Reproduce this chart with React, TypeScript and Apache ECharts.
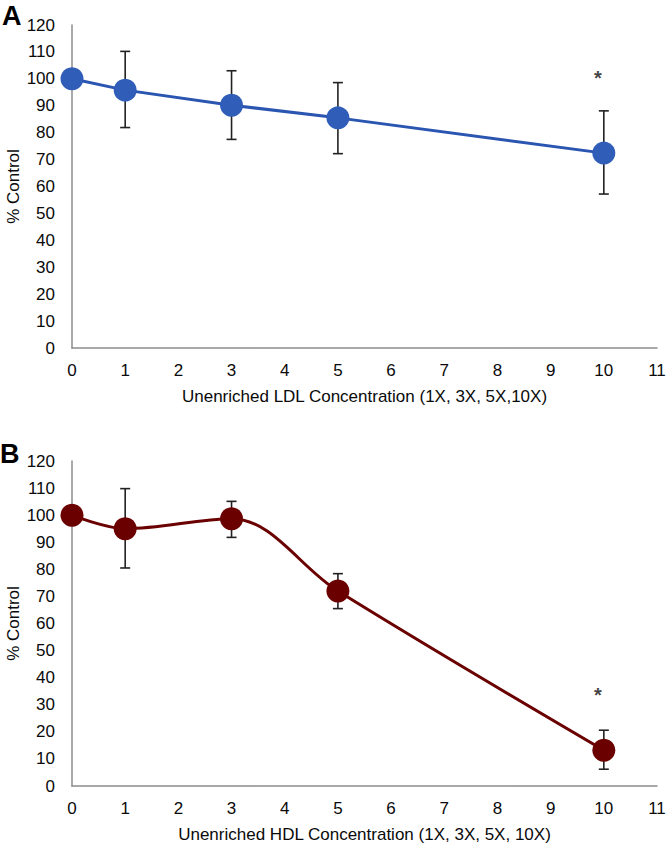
import React, { useEffect, useRef } from "react";
import * as echarts from "echarts";

const xValues = [0, 1, 3, 5, 10];
const ldlMeans = [100, 95.8, 90.2, 85.5, 72.4];
const ldlLow = [100, 81.9, 77.5, 72.2, 57.2];
const ldlHigh = [100, 110.2, 103, 98.6, 88.1];
const hdlMeans = [100, 95.0, 98.7, 72.0, 13.2];
const hdlLow = [100, 80.5, 91.8, 65.5, 6.2];
const hdlHigh = [100, 109.8, 105.1, 78.4, 20.6];
const ldlStar = [[10, 102.5]];
const hdlStar = [[10, 36]];
const ldlTitle = "Unenriched LDL Concentration (1X, 3X, 5X,10X)";
const hdlTitle = "Unenriched HDL Concentration (1X, 3X, 5X, 10X)";
const yTitle = "% Control";

const AXIS_COLOR = "#8c8c8c";
const TEXT_COLOR = "#0a0a0a";
const FONT = "Liberation Sans, Arial, sans-serif";

function errorData(low: number[], high: number[]) {
  return xValues.map((x, i) => [x, low[i], high[i]]);
}

function errSeries(idx: number, low: number[], high: number[]) {
  return {
    type: "custom",
    xAxisIndex: idx,
    yAxisIndex: idx,
    data: errorData(low, high),
    z: 1,
    silent: true,
    renderItem: (params: any, api: any) => {
      const x = api.value(0);
      const lo = api.coord([x, api.value(1)]);
      const hi = api.coord([x, api.value(2)]);
      const cap = 5;
      const style = { stroke: "#222", lineWidth: 1.6 };
      return {
        type: "group",
        children: [
          { type: "line", shape: { x1: lo[0], y1: lo[1], x2: hi[0], y2: hi[1] }, style },
          { type: "line", shape: { x1: lo[0] - cap, y1: lo[1], x2: lo[0] + cap, y2: lo[1] }, style },
          { type: "line", shape: { x1: hi[0] - cap, y1: hi[1], x2: hi[0] + cap, y2: hi[1] }, style },
        ],
      };
    },
  };
}

function xAxis(idx: number, name: string, nameGap: number) {
  return {
    type: "value",
    gridIndex: idx,
    min: 0,
    max: 11,
    interval: 1,
    name,
    nameLocation: "middle",
    nameGap,
    nameMoveOverlap: false,
    nameTextStyle: { fontSize: 17, color: TEXT_COLOR, fontFamily: FONT },
    axisLine: { show: true, onZero: false, lineStyle: { color: AXIS_COLOR, width: 1.5 } },
    axisTick: { show: false },
    splitLine: { show: false },
    axisLabel: { margin: 14, fontSize: 17, color: TEXT_COLOR, fontFamily: FONT },
  };
}

function yAxis(idx: number) {
  return {
    type: "value",
    gridIndex: idx,
    min: 0,
    max: 120,
    interval: 10,
    name: yTitle,
    nameLocation: "middle",
    nameGap: 50,
    nameMoveOverlap: false,
    nameTextStyle: { fontSize: 17, color: TEXT_COLOR, fontFamily: FONT },
    axisLine: { show: true, lineStyle: { color: AXIS_COLOR, width: 1.5 } },
    axisTick: { show: false },
    splitLine: { show: false },
    axisLabel: { margin: 17, fontSize: 17, color: TEXT_COLOR, fontFamily: FONT },
  };
}

function starSeries(idx: number, data: number[][]) {
  return {
    type: "scatter",
    xAxisIndex: idx,
    yAxisIndex: idx,
    data,
    symbolSize: 1,
    itemStyle: { color: "rgba(0,0,0,0)" },
    silent: true,
    label: {
      show: true,
      position: "inside",
      formatter: "*",
      fontSize: 20,
      fontWeight: "bold",
      color: "#111",
      fontFamily: FONT,
      offset: [-6, 6],
    },
  };
}

export default function App() {
  const ref = useRef<HTMLDivElement>(null);
  useEffect(() => {
    if (!ref.current) return;
    const chart = echarts.init(ref.current, null, { renderer: "svg" });
    chart.setOption({
      animation: false,
      backgroundColor: "#ffffff",
      textStyle: { fontFamily: FONT },
      grid: [
        { left: 72, top: 25, width: 585, height: 323, outerBoundsMode: "none", containLabel: false },
        { left: 72, top: 461, width: 585, height: 325, outerBoundsMode: "none", containLabel: false },
      ],
      xAxis: [xAxis(0, ldlTitle, 40), xAxis(1, hdlTitle, 40)],
      yAxis: [yAxis(0), yAxis(1)],
      graphic: [
        { type: "text", left: 2, top: 2, style: { text: "A", fontSize: 27, fontWeight: "bold", fill: "#000", fontFamily: FONT } },
        { type: "text", left: 0, top: 440, style: { text: "B", fontSize: 27, fontWeight: "bold", fill: "#000", fontFamily: FONT } },
      ],
      series: [
        errSeries(0, ldlLow, ldlHigh),
        {
          type: "line",
          xAxisIndex: 0,
          yAxisIndex: 0,
          data: xValues.map((x, i) => [x, ldlMeans[i]]),
          symbol: "circle",
          symbolSize: 23,
          lineStyle: { color: "#2a55b0", width: 3 },
          itemStyle: { color: "#2f5db8" },
          z: 3,
        },
        starSeries(0, ldlStar),
        errSeries(1, hdlLow, hdlHigh),
        {
          type: "line",
          xAxisIndex: 1,
          yAxisIndex: 1,
          data: xValues.map((x, i) => [x, hdlMeans[i]]),
          smooth: 0.35,
          symbol: "circle",
          symbolSize: 23,
          lineStyle: { color: "#6a0000", width: 3 },
          itemStyle: { color: "#6a0000" },
          z: 3,
        },
        starSeries(1, hdlStar),
      ],
    });
    return () => chart.dispose();
  }, []);
  return (
    <div
      ref={ref}
      style={{ position: "fixed", left: 0, top: 0, width: 667, height: 845, background: "#fff" }}
    />
  );
}
